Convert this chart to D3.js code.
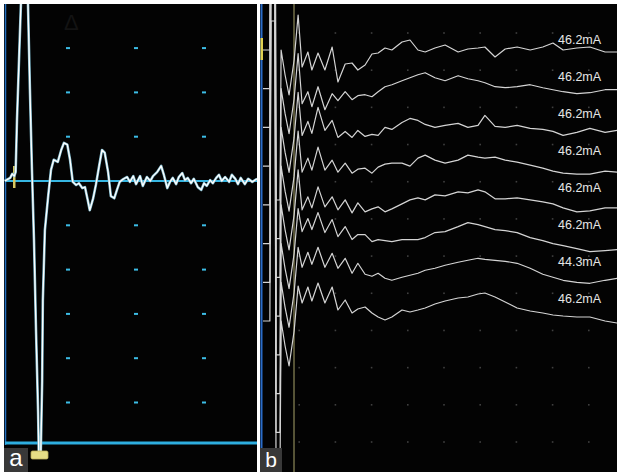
<!DOCTYPE html>
<html>
<head>
<meta charset="utf-8">
<script src="https://cdn.jsdelivr.net/npm/d3@7"></script>
<style>
  body { margin: 0; background: #fff; }
  svg { display: block; }
</style>
</head>
<body>
<script>
// panel a : single response, 10 ms/div, 1 mV/div  [time ms, amplitude mV]
const leftResponse = [
  [0.7, 0], [1.5, 0.07], [1.8, 0.16], [2.1, 0.11], [2.3, 0.2], [2.5, 1.39], [2.8, 2.75], [3.1, 4.1],
  [3.6, 5.0], [4.1, 4.1], [4.4, 2.07], [4.7, 0.25], [5.0, -1.34], [5.3, -3.39], [5.6, -5.2], [5.7, -6.11],
  [5.9, -6.23], [6.0, -6.11], [6.2, -4.52], [6.3, -2.7], [6.6, -1.11], [7.1, -0.32], [7.5, 0.25], [7.9, 0.48],
  [8.5, 0.43], [9.0, 0.7], [9.4, 0.86], [9.9, 0.82], [10.3, 0.48], [10.7, -0.02], [11.2, -0.09], [11.6, -0.05],
  [12.1, -0.16], [12.5, -0.14], [12.9, -0.43], [13.2, -0.66], [13.7, -0.39], [14.1, -0.09], [14.6, 0.36], [15.0, 0.7],
  [15.4, 0.64], [15.9, 0.2], [16.3, -0.34], [16.8, -0.39], [17.2, -0.2], [17.6, -0.02], [18.2, 0.05], [18.7, 0.09],
  [19.1, -0.02], [19.6, 0.11], [20.0, -0.07], [20.6, 0.11], [21.0, -0.11], [21.6, 0.09], [22.1, 0], [22.5, 0.11],
  [23.1, 0.2], [23.7, 0.34], [24.1, 0.14], [24.6, -0.16], [25.0, -0.02], [25.4, 0.07], [25.9, -0.07], [26.3, 0.09],
  [26.8, 0.18], [27.2, 0.02], [27.6, 0.07], [28.1, -0.05], [28.5, 0.05], [29.1, -0.14], [29.6, -0.2], [30.0, -0.05],
  [30.4, -0.11], [30.9, 0.02], [31.3, -0.05], [31.8, 0.07], [32.2, 0.14], [32.6, 0], [33.1, 0.09], [33.7, -0.02],
  [34.1, 0.14], [34.6, 0.05], [35.0, -0.07], [35.4, 0.07], [36.0, -0.07], [36.5, 0.05], [37.1, -0.02], [37.8, 0.05]
];
const leftGridTimes = [10, 20, 30];
const leftGridAmps = [3, 2, 1, -1, -2, -3, -4, -5];

// panel b : 8 stacked responses, 10 ms/div, amplitudes in µV
const rightTime = [
  0, 1.9, 2.2, 3.3, 3.6, 4.7, 5.0, 6.1, 7.2, 8.6, 9.7,
  10.8, 12.4, 13.5, 15.2, 17.1, 19.1, 20.7, 22.7, 24.6, 26.2,
  28.2, 30.1, 31.8, 33.7, 35.6, 38.4, 40.6, 42.8, 44.8, 47.5,
  50.3, 53.9, 56.6, 59.4, 61.3, 64.1, 66.9, 70.2, 73.8, 77.3,
  80.1, 82.9, 86.7, 90.3, 94.5, 97.8
];
// stimulus artifact, the same on every sweep (first 11 samples)
const artifactAmp = [0, 0, 600, 600, -300, -300, 0, -50, -90, -20, 70];

const trace1 = [-34, -4, -40, -6, -40, 6, -64, -28, -26, -40, -30, -8, -6, 4, 0, 16, 20, 0, -4, 4, 10, -4, 2, 4, 6, -14, 2, 6, 0, 6, 14, 0, 4, 6, -4, -4];
const trace2 = [-30, -6, -36, 4, -42, -10, -24, -6, -22, -14, -12, -16, -6, 4, 8, 16, 22, 28, 32, 22, 16, 26, 20, 16, 12, 4, 2, 4, 8, 2, -2, -6, -10, -8, -2, -2];
const trace3 = [-16, 12, -12, 40, -6, 14, -20, -8, -20, -6, -18, -14, -16, 0, -4, 10, 18, 14, 6, 0, 4, 8, 0, 4, 24, 2, 0, 4, -2, -4, -8, -16, -10, -2, -10, -6];
const trace4 = [-12, 16, -8, 38, -8, 12, -12, 6, -14, -6, -4, -14, -2, 4, 6, 6, 0, 16, 22, 12, 6, 12, 22, 18, 16, 18, 12, 8, 2, -4, -10, -14, -16, -16, -10, -12];
const trace5 = [-10, 16, -6, 36, -4, 16, -10, 10, -16, 4, -14, -8, -4, -14, -8, 2, 10, 14, 10, 20, 18, 26, 24, 30, 26, 12, 12, 14, 10, 6, 2, -6, -14, -12, -6, -6];
const trace6 = [24, 50, 28, 62, 22, 48, 14, 34, 8, 18, 18, 4, 8, 6, 4, 8, 8, 8, 12, 22, 24, 34, 42, 38, 34, 28, 26, 22, 12, 6, 0, -4, -10, -16, -14, -12];
const trace7 = [30, 60, 36, 70, 30, 58, 28, 48, 18, 38, 16, 12, 18, 8, 4, 10, 14, 18, 24, 28, 34, 40, 44, 48, 46, 44, 42, 38, 28, 16, 10, 4, 0, -2, 4, 8];
const trace8 = [36, 68, 40, 76, 36, 68, 22, 42, 16, 24, 28, 16, 8, 2, 8, 22, 18, 22, 26, 34, 40, 46, 48, 54, 56, 48, 38, 26, 20, 16, 12, 10, 8, 8, 0, -4];
const traces = [trace1, trace2, trace3, trace4, trace5, trace6, trace7, trace8];

const currents = ['46.2mA', '46.2mA', '46.2mA', '46.2mA', '46.2mA', '46.2mA', '44.3mA', '46.2mA'];
const rightGridTimes = [10, 20, 30, 40, 50, 60, 70, 80, 90];
const rightGridRows = d3.range(12);


const W = 617, H = 472;
const font = '"Liberation Sans", Arial, sans-serif';

const svg = d3.select('body').append('svg')
  .attr('width', W)
  .attr('height', H)
  .style('background', '#fff');

const defs = svg.append('defs');
defs.append('clipPath').attr('id', 'clip-a')
  .append('rect').attr('x', 4).attr('y', 4).attr('width', 253).attr('height', 468);
defs.append('clipPath').attr('id', 'clip-b')
  .append('rect').attr('x', 260).attr('y', 4).attr('width', 357).attr('height', 468);


// ---------- panel a ----------
const xL = d3.scaleLinear().domain([0, 40]).range([0, 272]);
const yL = d3.scaleLinear().domain([0, 1]).range([181, 181 - 44.3]);

const a = svg.append('g').attr('clip-path', 'url(#clip-a)');

a.append('rect')
  .attr('x', 4).attr('y', 4).attr('width', 253).attr('height', 468)
  .attr('fill', '#030303');

a.append('line')
  .attr('x1', 5.5).attr('x2', 5.5).attr('y1', 4).attr('y2', 445)
  .attr('stroke', '#2470c0').attr('stroke-width', 1.5);

a.append('text')
  .text('Δ')
  .attr('x', 64).attr('y', 30)
  .attr('font-family', font).attr('font-size', 22)
  .attr('fill', '#131313');

const dotsA = [];
leftGridTimes.forEach(t => leftGridAmps.forEach(v => dotsA.push([t, v])));

a.selectAll('rect.dot')
  .data(dotsA)
  .join('rect')
  .attr('class', 'dot')
  .attr('x', d => xL(d[0]) - 2)
  .attr('y', d => yL(d[1]) - 1)
  .attr('width', 4)
  .attr('height', 2)
  .attr('fill', '#3cbde6');

a.append('line')
  .attr('x1', 5).attr('x2', 257).attr('y1', yL(0)).attr('y2', yL(0))
  .attr('stroke', '#36b6e2').attr('stroke-width', 2);

a.append('line')
  .attr('x1', 5).attr('x2', 257).attr('y1', 443).attr('y2', 443)
  .attr('stroke', '#2eaee0').attr('stroke-width', 3);

a.append('rect')
  .attr('x', 13).attr('y', 166).attr('width', 2.5).attr('height', 22)
  .attr('fill', '#d8c860');

const lineA = d3.line().x(d => xL(d[0])).y(d => yL(d[1]));

a.append('path')
  .datum(leftResponse)
  .attr('d', lineA)
  .attr('fill', 'none')
  .attr('stroke', '#7fb9cc')
  .attr('stroke-width', 2.6)
  .attr('stroke-linejoin', 'round');

a.append('path')
  .datum(leftResponse)
  .attr('d', lineA)
  .attr('fill', 'none')
  .attr('stroke', '#ffffff')
  .attr('stroke-width', 1.3)
  .attr('stroke-linejoin', 'round');

a.append('rect')
  .attr('x', 31).attr('y', 451).attr('width', 17).attr('height', 8).attr('rx', 1.5)
  .attr('fill', '#e6de86').attr('stroke', '#bfb25a').attr('stroke-width', 0.8);

a.append('rect')
  .attr('x', 4).attr('y', 448).attr('width', 24).attr('height', 24)
  .attr('fill', '#383838');

a.append('text')
  .text('a')
  .attr('x', 16).attr('y', 466)
  .attr('text-anchor', 'middle')
  .attr('font-family', font).attr('font-size', 24)
  .attr('fill', '#fff');


// ---------- panel b ----------
const xR = d3.scaleLinear().domain([0, 100]).range([263, 625]);
const ampR = d3.scaleLinear().domain([0, 100]).range([0, -50]);
const traceY = d3.scalePoint().domain(d3.range(traces.length)).range([50, 321]);
const labelY = d3.scalePoint().domain(d3.range(currents.length)).range([41, 300]);
const rowY = d3.scaleLinear().domain([0, 11]).range([33, 442]);

const b = svg.append('g').attr('clip-path', 'url(#clip-b)');

b.append('rect')
  .attr('x', 260).attr('y', 4).attr('width', 357).attr('height', 468)
  .attr('fill', '#030303');

const dotsB = [];
rightGridTimes.forEach(t => rightGridRows.forEach(r => dotsB.push([t, r])));

b.selectAll('rect.dot')
  .data(dotsB)
  .join('rect')
  .attr('class', 'dot')
  .attr('x', d => xR(d[0]) - 0.8)
  .attr('y', d => rowY(d[1]) - 0.8)
  .attr('width', 1.6)
  .attr('height', 1.6)
  .attr('fill', '#404040');

b.append('line')
  .attr('x1', 294).attr('x2', 294).attr('y1', 4).attr('y2', 472)
  .attr('stroke', '#a9a46a').attr('stroke-width', 1);

b.append('line')
  .attr('x1', 261.5).attr('x2', 261.5).attr('y1', 4).attr('y2', 448)
  .attr('stroke', '#2a6cc8').attr('stroke-width', 2);

b.append('rect')
  .attr('x', 260.5).attr('y', 38).attr('width', 2.5).attr('height', 22)
  .attr('fill', '#e0d050');

const lineB = d3.line();

b.selectAll('path.sweep')
  .data(traces)
  .join('path')
  .attr('class', 'sweep')
  .attr('d', (vals, i) => {
    const amp = artifactAmp.concat(vals);
    return lineB(rightTime.map((t, k) => [xR(t), traceY(i) + ampR(amp[k])]));
  })
  .attr('fill', 'none')
  .attr('stroke', '#d4d4d4')
  .attr('stroke-width', 1.2)
  .attr('stroke-linejoin', 'round');

b.selectAll('text.current')
  .data(currents)
  .join('text')
  .attr('class', 'current')
  .text(d => d)
  .attr('x', 558)
  .attr('y', (d, i) => labelY(i))
  .attr('dominant-baseline', 'middle')
  .attr('font-family', font)
  .attr('font-size', 12.5)
  .attr('fill', '#e6e6e6');

b.append('rect')
  .attr('x', 260).attr('y', 448).attr('width', 22).attr('height', 24)
  .attr('fill', '#383838');

b.append('text')
  .text('b')
  .attr('x', 271).attr('y', 467)
  .attr('text-anchor', 'middle')
  .attr('font-family', font).attr('font-size', 21)
  .attr('fill', '#fff');
</script>
</body>
</html>
